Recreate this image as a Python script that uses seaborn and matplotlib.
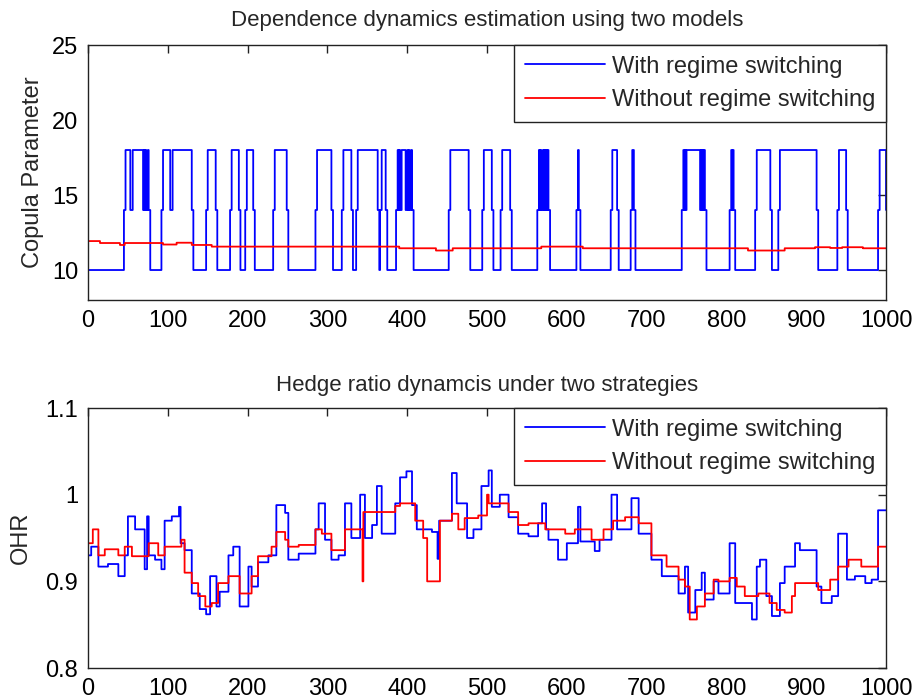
import numpy as np
import matplotlib
matplotlib.use("Agg")
import matplotlib.pyplot as plt
import seaborn as sns

# ---------------- data ----------------
# Top panel: copula parameter with regime switching -> pulses between 10 (low) and 18 (high), 14 intermediate
pulse_start = [47, 56, 70, 72, 75, 94, 106, 150, 180, 199, 234, 287, 320, 338, 368, 388, 390, 393, 400, 402, 405,
               454, 496, 519, 565, 567, 570, 572, 574, 576, 614, 657, 682, 746, 748, 750, 768, 770, 772, 806, 808,
               838, 867, 941, 992]
pulse_end = [53, 69, 71, 73, 76, 103, 130, 160, 189, 207, 249, 305, 330, 363, 373, 389, 391, 398, 401, 403, 406,
             477, 506, 529, 566, 568, 571, 573, 575, 577, 615, 663, 684, 747, 749, 767, 769, 771, 773, 807, 809,
             855, 913, 950, 1000]
regime_low, regime_mid, regime_high = 10.0, 14.0, 18.0

# Top panel: copula parameter without regime switching (step breakpoints)
cop_nrs_x = [0, 15, 40, 46, 94, 111, 130, 155, 390, 436, 457, 568, 620, 827, 873, 911, 930, 945, 971]
cop_nrs_y = [11.93, 11.80, 11.67, 11.80, 11.70, 11.82, 11.67, 11.56, 11.45, 11.30, 11.45, 11.56, 11.45, 11.30,
             11.45, 11.52, 11.47, 11.52, 11.45]

# Bottom panel: OHR with regime switching (step breakpoints)
ohr_rs_x = [0, 4, 13, 25, 38, 46, 50, 59, 71, 74, 76, 84, 92, 96, 105, 114, 116, 121, 130, 140, 148, 153, 161,
            165, 176, 182, 190, 201, 205, 213, 226, 236, 247, 251, 264, 285, 289, 297, 305, 314, 322, 330, 341,
            347, 356, 362, 368, 385, 391, 399, 406, 412, 431, 438, 440, 456, 462, 475, 483, 493, 502, 506, 516,
            527, 539, 552, 564, 569, 574, 577, 589, 600, 614, 617, 635, 641, 656, 663, 681, 690, 706, 719, 740,
            748, 752, 761, 769, 773, 784, 790, 804, 811, 832, 838, 842, 850, 857, 867, 873, 886, 892, 913, 919,
            932, 940, 951, 961, 974, 982, 990]
ohr_rs_y = [0.930, 0.940, 0.917, 0.920, 0.906, 0.930, 0.975, 0.960, 0.914, 0.975, 0.930, 0.925, 0.914, 0.970,
            0.975, 0.986, 0.944, 0.936, 0.886, 0.868, 0.862, 0.906, 0.871, 0.888, 0.930, 0.940, 0.871, 0.917,
            0.894, 0.922, 0.930, 0.988, 0.979, 0.925, 0.932, 0.960, 0.990, 0.948, 0.925, 0.930, 0.990, 0.950,
            1.000, 0.950, 0.965, 1.010, 0.955, 0.990, 1.020, 1.027, 0.988, 0.960, 0.957, 0.926, 0.970, 1.025,
            0.990, 0.950, 0.960, 1.010, 1.028, 0.986, 1.000, 0.974, 0.955, 0.952, 0.967, 0.990, 0.960, 0.948,
            0.925, 0.944, 0.986, 0.946, 0.935, 0.948, 1.000, 0.960, 0.996, 0.955, 0.925, 0.906, 0.886, 0.917,
            0.864, 0.890, 0.910, 0.879, 0.900, 0.886, 0.944, 0.875, 0.856, 0.917, 0.925, 0.883, 0.860, 0.898,
            0.917, 0.944, 0.936, 0.894, 0.875, 0.883, 0.955, 0.902, 0.906, 0.898, 0.902, 0.982]

# Bottom panel: OHR without regime switching (step breakpoints)
ohr_nrs_x = [0, 6, 13, 21, 38, 46, 55, 76, 88, 96, 117, 121, 130, 138, 147, 155, 163, 176, 190, 205, 213, 230,
             236, 247, 251, 264, 285, 293, 305, 322, 344, 345, 385, 391, 410, 420, 425, 441, 456, 464, 472, 489,
             500, 502, 527, 539, 552, 573, 598, 610, 631, 646, 658, 673, 690, 706, 725, 740, 748, 754, 763, 773,
             784, 790, 804, 813, 823, 840, 854, 863, 873, 882, 886, 915, 930, 940, 953, 969, 990]
ohr_nrs_y = [0.944, 0.960, 0.930, 0.937, 0.930, 0.940, 0.929, 0.944, 0.930, 0.940, 0.948, 0.910, 0.898, 0.883,
             0.871, 0.875, 0.898, 0.906, 0.886, 0.906, 0.929, 0.940, 0.957, 0.948, 0.940, 0.942, 0.960, 0.955,
             0.936, 0.960, 0.900, 0.980, 0.987, 0.990, 0.970, 0.950, 0.900, 0.970, 0.978, 0.960, 0.973, 0.976,
             1.000, 0.990, 0.980, 0.965, 0.967, 0.960, 0.955, 0.960, 0.948, 0.960, 0.970, 0.974, 0.967, 0.930,
             0.917, 0.902, 0.894, 0.856, 0.871, 0.886, 0.902, 0.900, 0.904, 0.894, 0.883, 0.886, 0.875, 0.867,
             0.864, 0.883, 0.898, 0.890, 0.902, 0.917, 0.925, 0.917, 0.940]

labels = ["With regime switching", "Without regime switching"]
N = 1000


def expand(bx, by):
    t = np.arange(N + 1)
    idx = np.searchsorted(np.asarray(bx), t, side="right") - 1
    return t, np.asarray(by, dtype=float)[idx]


t = np.arange(N + 1)
regime = np.full(N + 1, regime_low)
for s, e in zip(pulse_start, pulse_end):
    lo = max(s - 2, 0)
    regime[lo:s] = np.maximum(regime[lo:s], regime_mid)
    regime[e:e + 2] = np.maximum(regime[e:e + 2], regime_mid)
for s, e in zip(pulse_start, pulse_end):
    regime[s:e] = regime_high

_, cop_nrs = expand(cop_nrs_x, cop_nrs_y)
_, ohr_rs = expand(ohr_rs_x, ohr_rs_y)
_, ohr_nrs = expand(ohr_nrs_x, ohr_nrs_y)

# ---------------- style ----------------
sns.set_theme(style="white")
FONT = ["Liberation Sans Narrow", "Liberation Sans", "DejaVu Sans"]
plt.rcParams["font.family"] = FONT
plt.rcParams["axes.edgecolor"] = "#222222"
plt.rcParams["axes.linewidth"] = 1.0

FS = 17

fig = plt.figure(figsize=(9.14, 7.0), dpi=100)
ax1 = fig.add_axes([0.0963, 0.5714, 0.8731, 0.3643])
ax2 = fig.add_axes([0.0963, 0.0457, 0.8731, 0.3714])


def style_axes(ax):
    ax.set_xlim(0, 1000)
    ax.set_xticks(np.arange(0, 1001, 100))
    ax.tick_params(direction="in", top=True, right=True, length=6, width=1.0,
                   labelsize=FS, pad=7, colors="#222222", labelcolor="black")
    for sp in ax.spines.values():
        sp.set_visible(True)
        sp.set_color("#222222")
    ax.grid(False)


line_kw = dict(linewidth=1.3, drawstyle="steps-post", estimator=None)

sns.lineplot(x=t, y=regime, ax=ax1, color="#0000ff", label=labels[0], **line_kw)
sns.lineplot(x=t, y=cop_nrs, ax=ax1, color="#ff0000", label=labels[1], **line_kw)
style_axes(ax1)
ax1.set_ylim(8, 25)
ax1.set_yticks([10, 15, 20, 25])
ax1.set_ylabel("Copula Parameter", fontsize=FS, labelpad=6)
ax1.set_title("Dependence dynamics estimation using two models", fontsize=16, pad=14)

sns.lineplot(x=t, y=ohr_rs, ax=ax2, color="#0000ff", label=labels[0], **line_kw)
sns.lineplot(x=t, y=ohr_nrs, ax=ax2, color="#ff0000", label=labels[1], **line_kw)
style_axes(ax2)
ax2.set_ylim(0.8, 1.1)
ax2.set_yticks([0.8, 0.9, 1.0, 1.1])
ax2.set_yticklabels(["0.8", "0.9", "1", "1.1"])
ax2.set_ylabel("OHR", fontsize=FS, labelpad=10)
ax2.set_title("Hedge ratio dynamcis under two strategies", fontsize=16, pad=12)

for ax in (ax1, ax2):
    ax.set_xlabel("")
    leg = ax.legend(loc="upper right", borderaxespad=0, fancybox=False, framealpha=1,
                    edgecolor="#222222", fontsize=FS, handlelength=3.4, handletextpad=0.3,
                    borderpad=0.45, labelspacing=0.5)
    leg.get_frame().set_linewidth(1.0)
    for h in leg.get_lines():
        h.set_linewidth(1.3)

fig.savefig("out.png", dpi=100)
